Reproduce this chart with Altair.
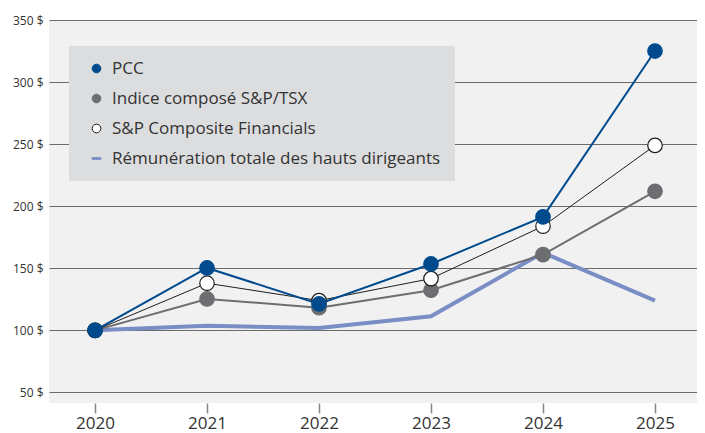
import altair as alt
import pandas as pd

years = [2020, 2021, 2022, 2023, 2024, 2025]
series_names = ["PCC", "Indice composé S&P/TSX", "S&P Composite Financials",
                "Rémunération totale des hauts dirigeants"]
pcc = [100, 150.3, 121.3, 153.5, 191.4, 325]
tsx = [100, 125.3, 118.3, 132.3, 161, 212]
cf = [100, 138, 124, 141.7, 183.9, 249]
rem = [100, 103.8, 101.9, 111.3, 162.6, 124]
y_ticks = [50, 100, 150, 200, 250, 300, 350]

values = {series_names[0]: pcc, series_names[1]: tsx,
          series_names[2]: cf, series_names[3]: rem}
rows = []
for s in [series_names[3], series_names[1], series_names[2], series_names[0]]:
    for yr, v in zip(years, values[s]):
        rows.append({"year": yr, "value": v, "series": s})
df = pd.DataFrame(rows)

line_colors = ["#004b8d", "#6d6e71", "#1e1e1e", "#7a8ec6"]
line_widths = [2, 2, 1, 4]
fill_colors = ["#004b8d", "#6d6e71", "#ffffff", "#7a8ec6"]
stroke_colors = ["#004b8d", "#6d6e71", "#1e1e1e", "#7a8ec6"]
shapes = ["circle", "circle", "circle", "M-1,-0.2H1V0.2H-1Z"]

FONT = "Open Sans"

x_enc = alt.X("year:Q",
              scale=alt.Scale(domain=[2019.589, 2025.375], nice=False, zero=False),
              axis=alt.Axis(values=years, format="d", grid=False, domain=False,
                            tickColor="#8a8a8a", tickWidth=1.5, tickSize=10,
                            labelPadding=2, labelFontSize=17, labelColor="#333333",
                            labelFont=FONT, title=None))
y_enc = alt.Y("value:Q",
              scale=alt.Scale(domain=[41.5, 350], nice=False, zero=False),
              axis=alt.Axis(values=y_ticks, labelExpr="datum.value + ' $'",
                            grid=True, gridColor="#6b6b6b", gridWidth=1,
                            domain=False, ticks=False, labelPadding=6,
                            labelFontSize=12, labelColor="#333333", labelFont=FONT,
                            title=None))

layers = []
order = [3, 1, 2, 0]
for i in order:
    s = series_names[i]
    layers.append(
        alt.Chart(df).transform_filter(alt.datum.series == s)
        .mark_line(color=line_colors[i], strokeWidth=line_widths[i])
        .encode(x=x_enc, y=y_enc)
    )

points = (
    alt.Chart(df).transform_filter(alt.datum.series != series_names[3])
    .mark_point(filled=True, opacity=1, size=210, strokeWidth=1.2)
    .encode(
        x=x_enc, y=y_enc,
        fill=alt.Fill("series:N", scale=alt.Scale(domain=series_names, range=fill_colors),
                      legend=alt.Legend(title=None)),
        stroke=alt.Stroke("series:N", scale=alt.Scale(domain=series_names, range=stroke_colors),
                          legend=alt.Legend(title=None)),
        shape=alt.Shape("series:N", scale=alt.Scale(domain=series_names, range=shapes),
                        legend=alt.Legend(title=None)),
    )
)
layers.append(points)

chart = (
    alt.layer(*layers)
    .properties(width=648, height=383,
                autosize=alt.AutoSizeParams(type="none"),
                padding={"left": 41, "top": 12, "right": 0, "bottom": 30})
    .configure_view(fill="#f1f1f1", stroke=None)
    .configure_legend(orient="none", legendX=20, legendY=26, fillColor="#dcdddf",
                      padding=14, symbolOffset=5, symbolSize=75, symbolStrokeWidth=1,
                      labelFont=FONT, labelFontSize=17, labelColor="#333333",
                      labelOffset=7, rowPadding=12, labelLimit=500)
)

chart.save("out.html", embed_options={"renderer": "svg", "actions": False})
